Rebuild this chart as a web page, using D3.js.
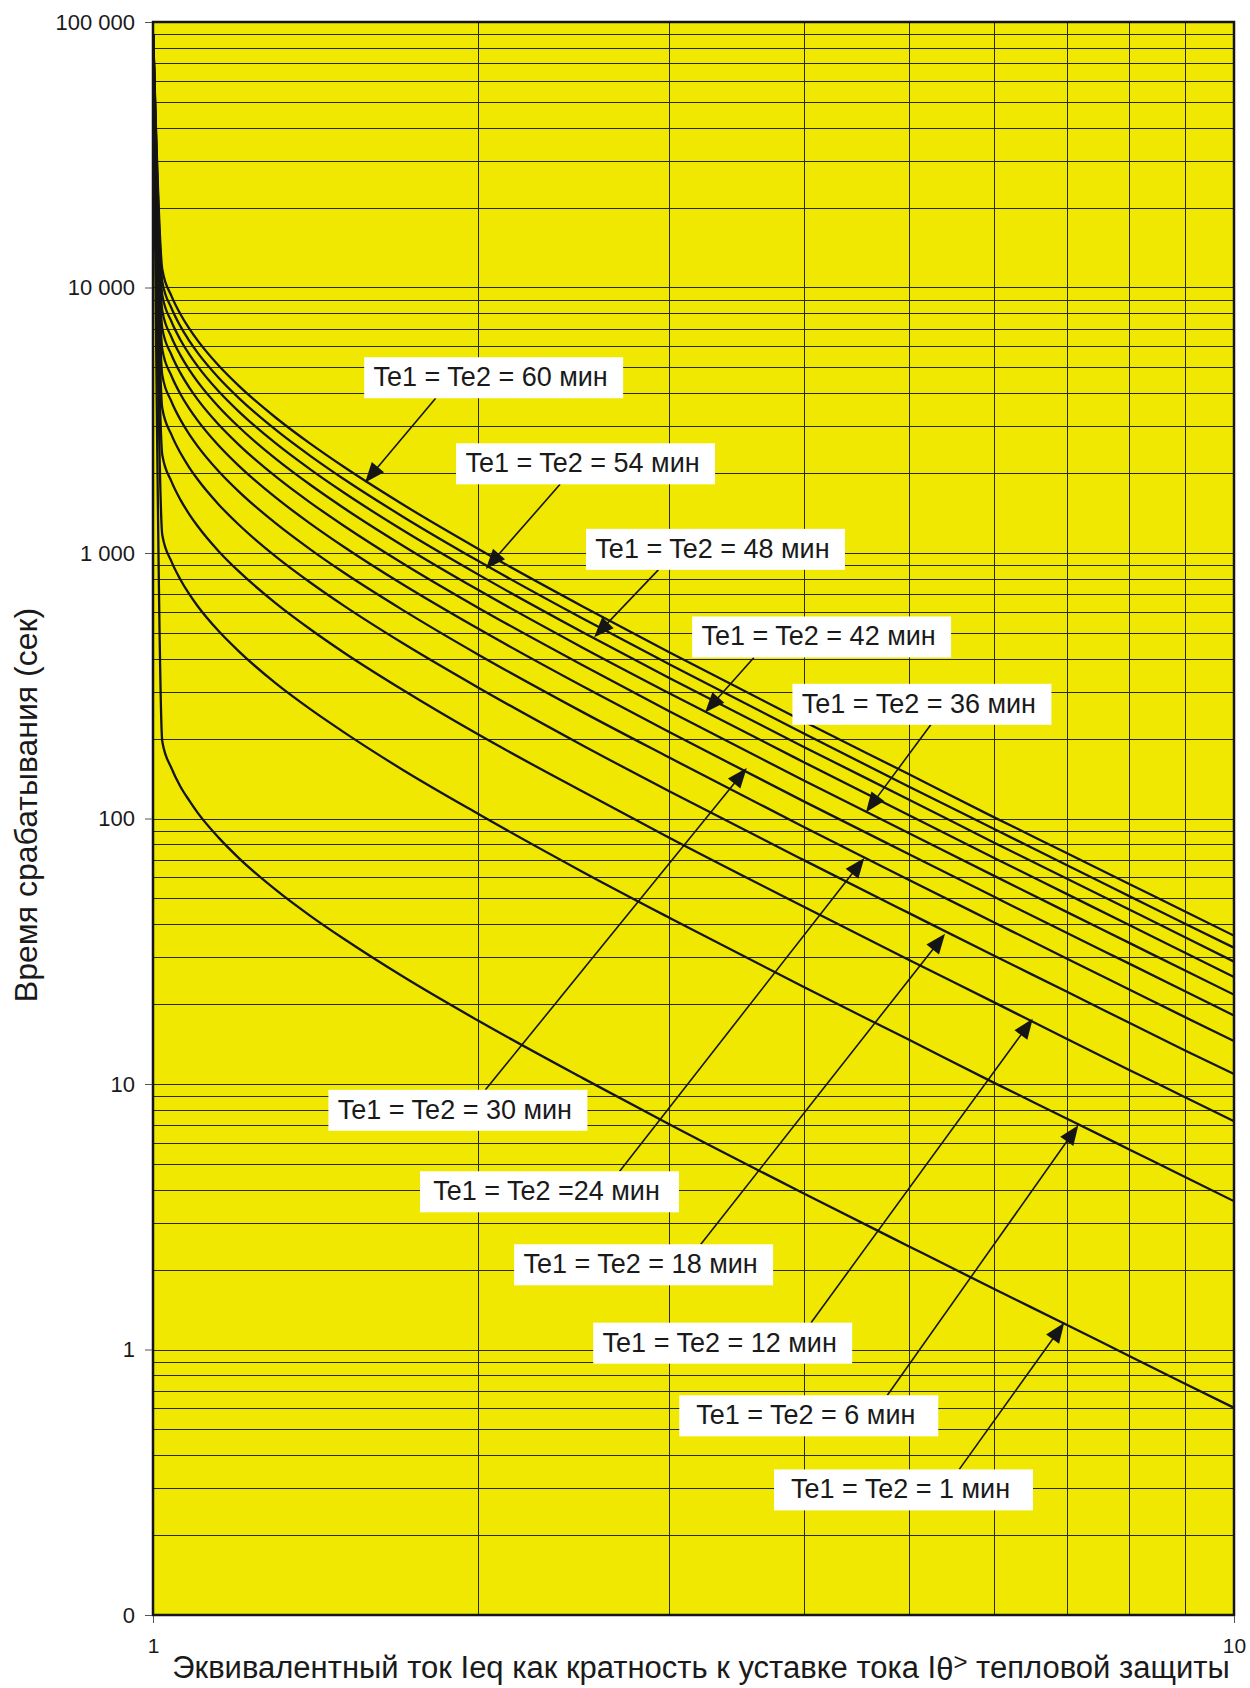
<!DOCTYPE html>
<html>
<head>
<meta charset="utf-8">
<script src="https://cdn.jsdelivr.net/npm/d3@7"></script>
<style>
  html, body { margin: 0; padding: 0; background: #ffffff; }
  svg { display: block; }
  text { font-family: "Liberation Sans", Arial, Helvetica, sans-serif; fill: #1a1a1a; }
</style>
</head>
<body>
<div id="chart"></div>
<script>
// Thermal protection trip curves: operate time vs. equivalent current (multiple of Iθ>)
const currentMultiple = [1.0005, 1.02, 1.04, 1.06, 1.08, 1.1, 1.15, 1.2, 1.3, 1.4, 1.5, 1.7, 2, 2.5, 3, 4, 5, 6, 7, 8, 9, 10];

const time1min  = [90000, 195, 155, 132, 117, 105, 84.7, 71.1, 53.7, 42.8, 35.3, 25.5, 17.3, 10.5, 7.07, 3.87, 2.45, 1.69, 1.24, 0.945, 0.745, 0.603];
const time6min  = [90000, 1169, 930, 795, 701, 630, 508, 427, 322, 257, 212, 153, 104, 62.8, 42.4, 23.2, 14.7, 10.1, 7.42, 5.67, 4.47, 3.62];
const time12min = [90000, 2339, 1861, 1589, 1402, 1261, 1016, 854, 645, 514, 423, 306, 207, 126, 84.8, 46.5, 29.4, 20.3, 14.8, 11.3, 8.94, 7.24];
const time18min = [90000, 3508, 2791, 2384, 2103, 1891, 1524, 1280, 967, 771, 635, 459, 311, 188, 127, 69.7, 44.1, 30.4, 22.3, 17.0, 13.4, 10.9];
const time24min = [90000, 4678, 3721, 3179, 2804, 2522, 2032, 1707, 1290, 1028, 846, 612, 414, 251, 170, 92.9, 58.8, 40.6, 29.7, 22.7, 17.9, 14.5];
const time30min = [90000, 5847, 4652, 3973, 3505, 3152, 2540, 2134, 1612, 1285, 1058, 764, 518, 314, 212, 116, 73.5, 50.7, 37.1, 28.4, 22.4, 18.1];
const time36min = [90000, 7017, 5582, 4768, 4206, 3783, 3048, 2561, 1935, 1542, 1270, 917, 621, 377, 254, 139, 88.2, 60.8, 44.5, 34.0, 26.8, 21.7];
const time42min = [90000, 8186, 6512, 5562, 4907, 4413, 3556, 2988, 2257, 1799, 1481, 1070, 725, 439, 297, 163, 103, 71.0, 52.0, 39.7, 31.3, 25.3];
const time48min = [90000, 9356, 7443, 6357, 5608, 5044, 4064, 3415, 2580, 2056, 1693, 1223, 829, 502, 339, 186, 118, 81.1, 59.4, 45.4, 35.8, 28.9];
const time54min = [90000, 10525, 8373, 7152, 6309, 5674, 4572, 3841, 2902, 2313, 1904, 1376, 932, 565, 382, 209, 132, 91.3, 66.8, 51.0, 40.2, 32.6];
const time60min = [90000, 11695, 9303, 7946, 7010, 6305, 5080, 4268, 3225, 2570, 2116, 1529, 1036, 628, 424, 232, 147, 101, 74.2, 56.7, 44.7, 36.2];

const allSeries = [time1min, time6min, time12min, time18min, time24min, time30min,
                   time36min, time42min, time48min, time54min, time60min];

// Axis ticks
const yTickValues = [0.1, 1, 10, 100, 1000, 10000, 100000];
const yTickLabels = ["0", "1", "10", "100", "1 000", "10 000", "100 000"];
const xTickValues = [1, 10];
const xTickLabels = ["1", "10"];

// Callouts: text, box corner (x, seconds), arrow origin x, arrow tip (x, seconds)
const calloutText = ["Te1 = Te2 = 60 мин", "Te1 = Te2 = 54 мин", "Te1 = Te2 = 48 мин",
                     "Te1 = Te2 = 42 мин", "Te1 = Te2 = 36 мин", "Te1 = Te2 = 30 мин",
                     "Te1 = Te2 =24 мин", "Te1 = Te2 = 18 мин", "Te1 = Te2 = 12 мин",
                     "Te1 = Te2 = 6 мин", "Te1 = Te2 = 1 мин"];
const calloutBoxX   = [1.568, 1.907, 2.515, 3.153, 3.904, 1.453, 1.766, 2.158, 2.554, 3.068, 3.754];
const calloutBoxT   = [5462, 2589, 1233, 576.8, 321.6, 9.51, 4.69, 2.49, 1.262, 0.672, 0.3535];
const calloutFromX  = [1.826, 2.380, 2.934, 3.597, 5.242, 2.030, 2.702, 3.212, 4.062, 4.779, 5.570];
const calloutTipX   = [1.571, 2.032, 2.559, 3.241, 4.566, 3.542, 4.55, 5.404, 6.513, 7.178, 6.966];
const calloutTipT   = [1845, 870, 482, 251, 105.5, 155, 71, 36.8, 17.6, 7.0, 1.26];

const W = 1250, H = 1688;
const plot = { left: 153, right: 1234, top: 22, bottom: 1615 };

const svg = d3.select("#chart").append("svg")
  .attr("width", W).attr("height", H)
  .attr("viewBox", `0 0 ${W} ${H}`);

const x = d3.scaleLog().domain([1, 10]).range([plot.left, plot.right]);
const y = d3.scaleLog().domain([0.1, 100000]).range([plot.bottom, plot.top]);

// Plot background
svg.append("rect")
  .attr("x", plot.left).attr("y", plot.top)
  .attr("width", plot.right - plot.left).attr("height", plot.bottom - plot.top)
  .attr("fill", "#f0e800");

// Grid: every 1..9 step of each decade
const yGrid = [];
for (let e = -1; e < 5; e++) for (let m = 1; m < 10; m++) yGrid.push(m * Math.pow(10, e));
const xGrid = [2, 3, 4, 5, 6, 7, 8, 9];

const grid = svg.append("g").attr("stroke", "#2a2a10").attr("stroke-width", 1).attr("shape-rendering", "crispEdges");
grid.selectAll("line.h").data(yGrid.filter(v => v > 0.1)).join("line")
  .attr("class", "h")
  .attr("x1", plot.left).attr("x2", plot.right)
  .attr("y1", d => Math.round(y(d)) + 0.5).attr("y2", d => Math.round(y(d)) + 0.5);
grid.selectAll("line.v").data(xGrid).join("line")
  .attr("class", "v")
  .attr("y1", plot.top).attr("y2", plot.bottom)
  .attr("x1", d => Math.round(x(d)) + 0.5).attr("x2", d => Math.round(x(d)) + 0.5);

// Curves
svg.append("clipPath").attr("id", "plotClip").append("rect")
  .attr("x", plot.left).attr("y", plot.top)
  .attr("width", plot.right - plot.left).attr("height", plot.bottom - plot.top);

const line = d3.line()
  .x(d => x(d[0]))
  .y(d => y(d[1]))
  .curve(d3.curveMonotoneX);

svg.append("g").attr("clip-path", "url(#plotClip)")
  .selectAll("path").data(allSeries).join("path")
  .attr("d", s => line(s.map((v, i) => [currentMultiple[i], v])))
  .attr("fill", "none")
  .attr("stroke", "#151515")
  .attr("stroke-width", 2.3)
  .attr("stroke-linejoin", "round");

// Frame
svg.append("rect")
  .attr("x", plot.left).attr("y", plot.top)
  .attr("width", plot.right - plot.left).attr("height", plot.bottom - plot.top)
  .attr("fill", "none").attr("stroke", "#151515").attr("stroke-width", 2.5);

// Axes
const yAxis = d3.axisLeft(y)
  .tickValues(yTickValues)
  .tickFormat((d, i) => yTickLabels[i])
  .tickSize(7).tickPadding(10);
const gy = svg.append("g").attr("transform", `translate(${plot.left - 1},0)`).call(yAxis);
gy.select(".domain").remove();
gy.selectAll(".tick line").attr("stroke", "#555").attr("stroke-width", 1);
gy.selectAll(".tick text")
  .attr("font-size", 22)
  .attr("font-family", "Liberation Sans, Arial, sans-serif")
  .attr("fill", "#1a1a1a");

const xAxis = d3.axisBottom(x)
  .tickValues(xTickValues)
  .tickFormat((d, i) => xTickLabels[i])
  .tickSize(7).tickPadding(15);
const gx = svg.append("g").attr("transform", `translate(0,${plot.bottom + 1})`).call(xAxis);
gx.select(".domain").remove();
gx.selectAll(".tick line").attr("stroke", "#555").attr("stroke-width", 1);
gx.selectAll(".tick text")
  .attr("font-size", 21)
  .attr("font-family", "Liberation Sans, Arial, sans-serif")
  .attr("fill", "#1a1a1a");

// Axis titles
svg.append("text")
  .attr("transform", `translate(37,805) rotate(-90)`)
  .attr("text-anchor", "middle")
  .attr("font-size", 32)
  .text("Время срабатывания (сек)");

const xt = svg.append("text")
  .attr("x", 701).attr("y", 1678)
  .attr("text-anchor", "middle")
  .attr("font-size", 31);
xt.append("tspan").text("Эквивалентный ток Ieq как кратность к уставке тока I");
xt.append("tspan").attr("dy", 2).text("θ");
xt.append("tspan").attr("dy", -10).attr("font-size", 24).text(">");
xt.append("tspan").attr("dy", 8).text(" тепловой защиты");

// Callouts with arrows
const boxW = 259, boxH = 41, headLen = 20, headHalf = 8;
const callouts = svg.append("g");
calloutText.forEach((txt, i) => {
  const bx = x(calloutBoxX[i]), by = y(calloutBoxT[i]);
  const tx = x(calloutTipX[i]), ty = y(calloutTipT[i]);
  const sx = x(calloutFromX[i]);
  const sy = ty > by ? by + boxH : by;

  const dx = tx - sx, dy = ty - sy, len = Math.hypot(dx, dy);
  const ux = dx / len, uy = dy / len;
  const baseX = tx - ux * headLen, baseY = ty - uy * headLen;

  callouts.append("line")
    .attr("x1", sx).attr("y1", sy).attr("x2", baseX + ux * 2).attr("y2", baseY + uy * 2)
    .attr("stroke", "#151515").attr("stroke-width", 1.6);
  callouts.append("path")
    .attr("d", `M${tx},${ty}L${baseX - uy * headHalf},${baseY + ux * headHalf}L${baseX + uy * headHalf},${baseY - ux * headHalf}Z`)
    .attr("fill", "#151515");

  callouts.append("rect")
    .attr("x", bx).attr("y", by).attr("width", boxW).attr("height", boxH)
    .attr("fill", "#ffffff");
  callouts.append("text")
    .attr("x", bx + boxW / 2 - 3).attr("y", by + 29)
    .attr("text-anchor", "middle")
    .attr("font-size", 27)
    .text(txt);
});
</script>
</body>
</html>
